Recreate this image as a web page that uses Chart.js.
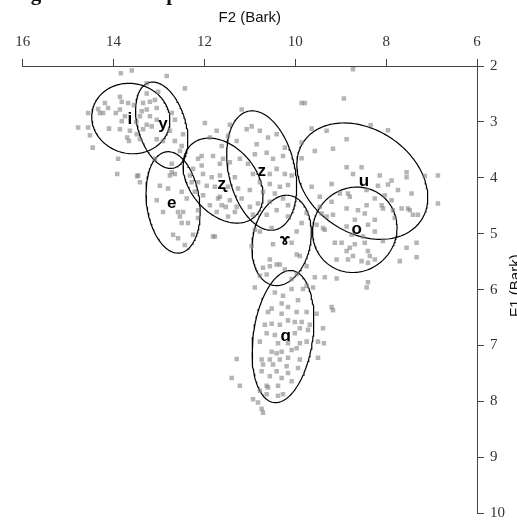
<!DOCTYPE html>
<html><head><meta charset="utf-8">
<script src="https://cdn.jsdelivr.net/npm/chart.js@4"></script>
<style>
html,body{margin:0;padding:0;background:#fff;overflow:hidden;width:517px;height:526px}
#wrap{position:relative;width:517px;height:526px;overflow:hidden}
#cap{position:absolute;left:12px;top:-17px;font:bold 21px "Liberation Serif",serif;line-height:21px;white-space:nowrap;color:#111;z-index:2}
canvas{position:absolute;left:0;top:0}
</style></head>
<body><div id="wrap"><canvas id="c" width="517" height="526"></canvas><div id="cap">Figure 6. Scatter plot of vowels</div></div>
<script>
const vowels = ['i','y','e','ʐ','z','u','o','ɤ','ɑ'];
const xTicks = [16,14,12,10,8,6];
const yTicks = [2,3,4,5,6,7,8,9,10];

const iF2 = [13.84,13.60,13.86,13.68,13.82,14.19,14.34,14.23,14.56,13.95,13.86,13.75,13.82,14.10,13.86,13.70,13.66,14.78,14.56,14.52,14.46,13.90,13.64,14.30,14.12,13.55,13.50];
const iF1 = [2.13,2.08,2.55,2.66,2.64,2.66,2.77,2.84,2.84,2.84,2.78,2.90,2.99,3.12,3.13,3.28,3.34,3.10,3.10,3.24,3.46,3.66,3.16,2.84,2.75,2.70,3.00];

const yF2 = [13.42,13.49,13.35,13.27,13.27,13.20,13.09,13.35,13.05,13.20,13.42,13.38,13.02,13.27,13.05,13.16,13.05,12.91,12.76,12.72,12.83,13.09,12.72,12.43,12.65,12.47,12.65,12.54,13.27,12.50];
const yF1 = [3.31,3.22,3.13,3.05,2.78,2.64,2.61,2.66,2.75,2.90,2.90,2.81,2.46,2.49,2.96,3.08,3.31,3.34,3.16,2.84,2.18,3.66,3.75,2.40,2.96,3.22,3.34,3.52,2.31,3.43];

const eF2 = [13.48,13.42,12.98,12.80,12.72,13.05,12.76,12.65,12.50,12.58,12.54,12.50,12.91,13.46,12.32,12.28,12.14,12.69,12.25,12.58,12.43,12.47,12.36,12.39,12.14,13.92];
const eF1 = [3.97,4.08,4.14,4.19,3.90,4.40,3.96,3.93,4.25,4.61,4.69,4.81,4.61,3.96,3.96,4.08,4.72,5.02,5.02,5.08,5.20,4.61,4.81,4.37,4.58,3.93];

const zrF2 = [11.99,11.73,11.44,11.07,11.29,11.48,11.88,11.62,12.06,12.14,11.81,11.59,11.44,11.22,12.06,12.25,12.03,11.84,11.66,11.33,12.14,11.95,11.77,11.48,11.26,12.21,12.03,11.66,11.44,11.18,11.88,11.62,11.29,11.73,11.48,11.33,11.81,11.66,11.70,11.53];
const zrF1 = [3.02,3.16,3.05,3.13,3.34,3.25,3.28,3.43,3.61,3.66,3.61,3.66,3.72,3.66,3.78,3.84,3.93,3.99,3.96,3.99,4.08,4.14,4.16,4.16,4.19,4.25,4.31,4.34,4.40,4.37,4.49,4.49,4.52,4.61,4.69,4.61,5.05,3.75,4.37,4.52];

const zF2 = [11.18,10.96,10.78,10.60,10.41,10.89,10.63,10.49,10.27,10.23,10.41,10.56,10.23,10.08,10.78,10.56,10.34,10.16,10.71,10.45,10.27,10.56,10.82,10.16,10.41,10.63,9.86,9.86,10.85,10.93,11.00,10.93,11.00,11.04];
const zF1 = [2.78,3.08,3.16,3.28,3.22,3.58,3.55,3.66,3.61,3.46,3.84,3.93,3.93,3.96,4.08,4.11,4.16,4.13,4.25,4.28,4.37,4.43,4.46,4.49,4.58,4.66,2.66,3.37,3.40,3.93,4.22,4.66,4.52,3.75];

const uF2 = [8.73,8.93,9.79,9.64,9.31,8.34,7.96,8.87,9.17,9.57,9.86,8.87,8.54,8.73,9.20,8.14,7.88,7.55,7.55,7.15,6.86,8.18,7.96,7.74,9.64,9.02,8.43,8.25,8.03,7.88,7.44,6.86,7.66,7.52,7.30,7.41,7.85,8.10];
const uF1 = [2.06,2.58,2.66,3.12,3.16,3.06,3.15,3.31,3.48,3.52,3.65,3.81,3.81,3.93,4.11,3.96,4.05,3.90,3.99,3.97,3.96,4.14,4.12,4.22,4.16,4.28,4.22,4.37,4.31,4.40,4.28,4.46,4.55,4.55,4.66,4.66,4.58,4.49];

const oF2 = [8.84,8.80,9.46,9.20,9.46,8.43,8.87,8.62,8.47,9.42,9.31,9.17,8.25,8.40,8.69,8.87,9.39,8.25,9.53,9.13,8.98,8.80,8.69,8.47,8.87,8.40,8.36,8.73,9.09,8.84,8.54,8.40,8.25,7.70,7.55,7.33,7.33,8.07,9.35,8.76,8.51,7.81,7.48,8.07,8.40,8.43,9.09,9.35];
const oF1 = [4.28,4.34,4.34,4.43,4.52,4.49,4.55,4.58,4.64,4.64,4.69,4.66,4.75,4.84,4.75,4.87,4.90,4.96,4.84,5.16,5.16,5.25,5.19,5.16,5.31,5.31,5.40,5.40,5.46,5.46,5.49,5.52,5.46,5.49,5.25,5.16,5.42,5.13,4.93,5.02,5.05,4.72,4.58,4.55,5.87,5.96,5.80,5.78];

const gF2 = [10.89,10.78,10.52,10.16,9.97,9.86,9.75,10.49,10.08,10.56,9.90,10.71,10.56,10.34,10.23,10.78,10.63,10.41,9.75,9.57,9.97,10.08,10.89,10.96,9.97,11.77];
const gF1 = [4.93,4.96,4.90,4.69,4.96,4.81,4.63,5.19,5.16,5.46,5.40,5.61,5.58,5.55,5.64,5.75,5.73,5.55,5.58,5.78,5.72,5.81,5.96,5.22,5.37,5.05];

const aF2 = [10.27,10.45,10.08,9.83,9.61,9.94,10.30,10.52,10.16,10.60,10.30,9.97,9.75,10.16,10.52,10.34,10.01,9.86,9.68,10.67,10.63,10.45,9.90,10.01,9.72,9.39,9.17,9.20,9.53,10.78,10.38,10.16,9.90,9.75,9.50,9.37,10.52,10.30,10.08,10.41,9.97,9.50,10.74,10.56,10.34,10.16,9.90,11.29,10.71,10.49,10.19,9.94,10.41,10.74,10.16,10.56,10.30,11.40,11.22,10.63,10.38,10.08,10.78,10.60,10.38,10.93,10.82,10.74,10.71,10.63,10.27,9.75];
const aF1 = [6.11,6.05,5.99,5.99,5.96,6.19,6.25,6.34,6.31,6.40,6.43,6.40,6.40,6.55,6.61,6.63,6.58,6.58,6.63,6.63,6.78,6.81,6.69,6.78,6.72,6.69,6.37,6.31,6.43,6.93,6.96,6.96,6.96,6.93,6.93,6.96,7.11,7.11,7.08,7.14,7.05,7.22,7.25,7.25,7.25,7.22,7.25,7.24,7.34,7.34,7.37,7.40,7.46,7.46,7.49,7.55,7.58,7.58,7.72,7.72,7.72,7.64,7.81,7.75,7.90,7.96,8.02,8.13,8.20,7.87,7.87,5.93];

const pointsF2 = [iF2,yF2,eF2,zrF2,zF2,uF2,oF2,gF2,aF2];
const pointsF1 = [iF1,yF1,eF1,zrF1,zF1,uF1,oF1,gF1,aF1];

// ellipse centres, half extents (Bark) and tilt, per vowel
const ellF2   = [13.62,12.94,12.69,11.59,10.74,8.525,8.69,10.30,10.27];
const ellF1   = [2.94,3.06,4.44,4.05,3.87,4.06,4.93,5.12,6.84];
const ellHalfF2 = [0.86,0.576,0.596,0.88,0.77,1.441,0.93,0.653,0.68];
const ellHalfF1 = [0.63,0.772,0.907,0.76,1.068,1.041,0.764,0.808,1.182];
const ellTilt = [0.05,0.34,0.18,0.35,0.27,0.28,-0.05,-0.17,-0.24];

// vowel label positions
const labelF2 = [13.64,12.91,12.72,11.62,10.74,8.49,8.65,10.23,10.21];
const labelF1 = [2.96,3.05,4.46,4.11,3.89,4.06,4.93,5.11,6.84];

function ellipse(k){
  const pts=[]; const r=ellTilt[k]; const q=Math.sqrt(1-r*r);
  for(let s=0;s<=160;s++){
    const t=s/160*2*Math.PI, c=Math.cos(t), sn=Math.sin(t);
    pts.push({x: ellF2[k]+ellHalfF2[k]*c, y: ellF1[k]+ellHalfF1[k]*(-r*c+q*sn)});
  }
  return pts;
}

const datasets=[];
vowels.forEach((v,k)=>{
  datasets.push({label:v, data:pointsF2[k].map((x,j)=>({x:x,y:pointsF1[k][j]})),
    pointStyle:'rect', pointRadius:3.2, borderWidth:0,
    backgroundColor:'rgba(128,128,128,0.58)', borderColor:'rgba(0,0,0,0)', showLine:false});
});
vowels.forEach((v,k)=>{
  datasets.push({label:v+' ellipse', data:ellipse(k), showLine:true, pointRadius:0,
    borderColor:'#000', borderWidth:1.2, fill:false, tension:0});
});

const axisFont={family:'"Liberation Serif", serif', size:15};
const extras={
  id:'extras',
  afterDatasetsDraw(chart){
    const ctx=chart.ctx, xs=chart.scales.x, ys=chart.scales.y;
    ctx.save();
    ctx.font='bold 17px "Liberation Sans","DejaVu Sans",sans-serif';
    ctx.fillStyle='#000'; ctx.textAlign='center'; ctx.textBaseline='middle';
    vowels.forEach((v,k)=>ctx.fillText(v, xs.getPixelForValue(labelF2[k]), ys.getPixelForValue(labelF1[k])));
    ctx.translate(515.5,(ys.top+ys.bottom)/2-4);
    ctx.rotate(-Math.PI/2);
    ctx.font='15px "Liberation Sans",Arial,sans-serif';
    ctx.fillStyle='#111';
    ctx.fillText('F1 (Bark)',0,0);
    ctx.restore();
  }
};

new Chart(document.getElementById('c'),{
  type:'scatter',
  data:{datasets},
  options:{
    responsive:false, animation:false, devicePixelRatio:1,
    layout:{padding:{left:22.7,right:0,top:0,bottom:7}},
    plugins:{legend:{display:false},tooltip:{enabled:false}},
    scales:{
      x:{type:'linear',position:'top',reverse:true,min:6,max:16,
        afterBuildTicks:s=>{s.ticks=xTicks.map(v=>({value:v}));},
        afterFit:s=>{s.height=66;},
        ticks:{font:axisFont,color:'#333',padding:8,maxRotation:0},
        grid:{drawOnChartArea:false,drawTicks:true,tickLength:7,color:'#444',lineWidth:1},
        border:{display:true,color:'#444',width:1},
        title:{display:true,text:'F2 (Bark)',font:{family:'"Liberation Sans",Arial,sans-serif',size:15},color:'#111',padding:{top:9,bottom:0}}
      },
      y:{type:'linear',position:'right',reverse:true,min:2,max:10,
        afterBuildTicks:s=>{s.ticks=yTicks.map(v=>({value:v}));},
        afterFit:s=>{s.width=40;},
        ticks:{font:{family:'"Liberation Serif", serif',size:15,lineHeight:0.9},color:'#333',padding:6},
        grid:{drawOnChartArea:false,drawTicks:true,tickLength:7,color:'#444',lineWidth:1},
        border:{display:true,color:'#444',width:1}
      }
    }
  },
  plugins:[extras]
});
</script>
</body></html>
